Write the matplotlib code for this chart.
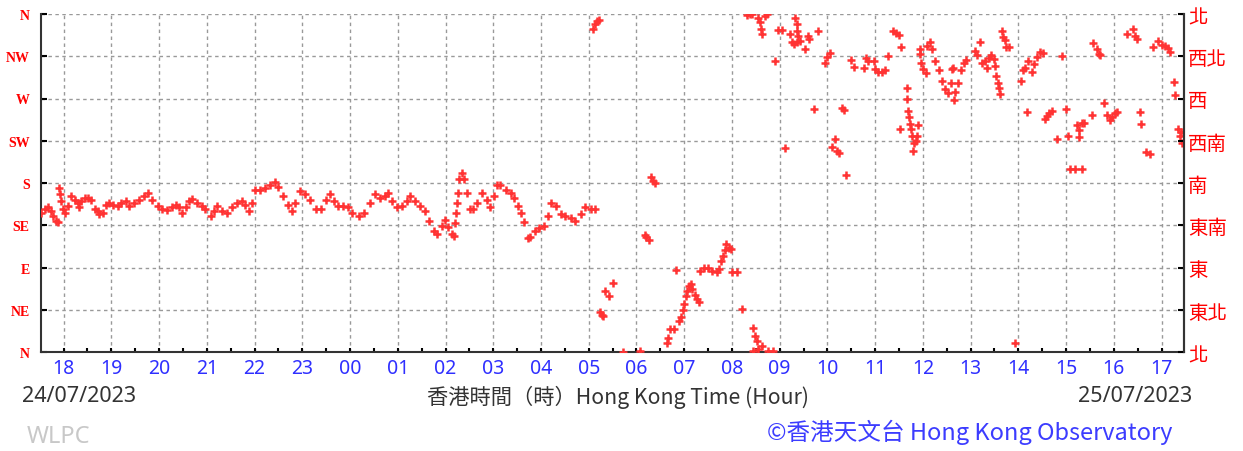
import numpy as np
import matplotlib
matplotlib.use("Agg")
import matplotlib.pyplot as plt

# 風向 (度) - 時間以小時計 (24/07 00:00 起計)
t_vals = [
    17.53, 17.60, 17.67, 17.74, 17.78, 17.85, 17.88, 17.90, 17.92, 17.94,
    17.99, 18.02, 18.09, 18.16, 18.23, 18.30, 18.33, 18.37, 18.44, 18.51,
    18.58, 18.65, 18.72, 18.75, 18.82, 18.89, 18.96, 19.03, 19.13, 19.20,
    19.31, 19.38, 19.48, 19.58, 19.69, 19.76, 19.86, 19.97, 20.07, 20.17,
    20.28, 20.35, 20.42, 20.49, 20.56, 20.63, 20.69, 20.80, 20.90, 20.97,
    21.08, 21.15, 21.22, 21.32, 21.42, 21.53, 21.63, 21.74, 21.81, 21.88,
    21.94, 22.01, 22.12, 22.22, 22.33, 22.43, 22.50, 22.60, 22.71, 22.78,
    22.85, 22.95, 23.06, 23.16, 23.28, 23.39, 23.49, 23.57, 23.66, 23.74,
    23.85, 23.95, 24.05, 24.19, 24.30, 24.41, 24.52, 24.63, 24.74, 24.80,
    24.87, 24.98, 25.08, 25.19, 25.25, 25.37, 25.47, 25.58, 25.65, 25.75,
    25.82, 25.93, 25.99, 26.06, 26.13, 26.18, 26.20, 26.22, 26.24, 26.26,
    26.29, 26.34, 26.39, 26.45, 26.51, 26.58, 26.66, 26.77, 26.87, 26.94,
    27.01, 27.08, 27.15, 27.26, 27.37, 27.44, 27.51, 27.58, 27.65, 27.72,
    27.78, 27.87, 27.96, 28.06, 28.15, 28.22, 28.31, 28.41, 28.51, 28.62,
    28.72, 28.83, 28.93, 29.04, 29.13,
    29.09, 29.13, 29.17, 29.21, 29.23, 29.27, 29.30, 29.34, 29.42, 29.51,
    29.71, 30.07, 30.17, 30.21, 30.27, 30.30, 30.34, 30.38, 30.64, 30.66,
    30.70, 30.78, 30.83, 30.90, 30.93, 30.97, 30.99, 31.03, 31.06, 31.10,
    31.14, 31.17, 31.22, 31.27, 31.31, 31.34, 31.41, 31.50, 31.59, 31.68,
    31.73, 31.78, 31.81, 31.85, 31.88, 31.94, 31.99, 32.01, 32.11, 32.22,
    32.31, 32.38, 32.43, 32.45, 32.48, 32.52, 32.55, 32.45, 32.62, 32.76,
    32.87, 32.55, 32.59, 32.60, 32.62, 32.69, 32.73, 32.90, 32.97, 33.04,
    33.11, 33.22, 33.25, 33.29, 33.36, 33.43, 33.32, 33.36, 33.37, 33.39,
    33.53, 33.60, 33.62, 33.71, 33.81, 33.95, 34.00, 34.06, 34.09, 34.16,
    34.20, 34.25, 34.30, 34.35, 34.39, 34.49, 34.55, 34.76, 34.81, 34.86,
    34.97, 35.00, 35.07, 35.15, 35.20, 35.27, 35.38, 35.43, 35.50, 35.52,
    35.55, 35.66, 35.67, 35.69, 35.71, 35.74, 35.75, 35.78, 35.81, 35.80,
    35.85, 35.87, 35.90, 35.94, 35.95, 35.97, 36.00, 36.06, 36.09, 36.15,
    36.19, 36.26, 36.33, 36.40, 36.47, 36.53, 36.58, 36.61, 36.63, 36.65,
    36.68, 36.73, 36.79, 36.86, 36.91, 37.10, 37.14, 37.19, 37.24, 37.31,
    37.34, 37.38, 37.43, 37.48, 37.52, 37.54, 37.57, 37.59, 37.62, 37.66,
    37.68, 37.71, 37.75, 37.80, 37.92, 38.05, 38.10, 38.14, 38.18, 38.21,
    38.28, 38.33, 38.39, 38.46, 38.51, 38.56, 38.60, 38.65, 38.70, 38.82,
    38.92, 39.00, 39.03, 39.08, 39.18, 39.33, 39.22, 39.27, 39.28, 39.34,
    39.38, 39.55, 39.56, 39.64, 39.68, 39.71, 39.79, 39.85, 39.92, 39.97,
    40.02, 40.07, 40.27, 40.41, 40.44, 40.49, 40.55, 40.56, 40.68, 40.75,
    40.82, 40.93, 41.00, 41.07, 41.14, 41.17, 41.27, 41.28, 41.34, 41.38,
    41.41, 41.43,
]
dir_vals = [
    148, 152, 154, 150, 145, 140, 138, 175, 168, 161,
    152, 148, 155, 166, 162, 159, 154, 161, 164, 164,
    162, 152, 150, 147, 148, 157, 159, 157, 155, 159,
    161, 155, 159, 162, 166, 169, 162, 155, 152, 151,
    154, 157, 154, 148, 154, 161, 163, 159, 155, 152,
    145, 150, 155, 150, 148, 154, 159, 161, 157, 150,
    159, 173, 173, 175, 178, 181, 176, 166, 157, 150,
    159, 171, 168, 162, 152, 152, 162, 168, 161, 155,
    155, 154, 148, 145, 148, 159, 168, 164, 166, 169,
    161, 154, 155, 161, 166, 161, 155, 150, 140, 129,
    126, 134, 141, 133, 126, 124, 137, 148, 159, 169,
    184, 191, 184, 169, 152, 152, 159, 169, 162, 154,
    166, 178, 178, 173, 169, 164, 155, 148, 138, 121,
    122, 129, 132, 134, 145, 159, 155, 147, 145, 143,
    140, 147, 154, 152, 152,
    344, 349, 353, 354, 43, 39, 38, 65, 60, 73,
    0, 1, 125, 123, 119, 186, 182, 180, 10, 15,
    24, 24, 87, 33, 37, 45, 51, 60, 65, 70,
    72, 67, 61, 56, 53, 86, 90, 89, 86, 85,
    88, 97, 102, 109, 115, 111, 110, 85, 85, 46,
    359, 360, 360, 26, 17, 12, 3, 1, 6, 1,
    1, 356, 351, 344, 339, 358, 360, 310, 343, 343,
    217, 339, 330, 328, 330, 331, 356, 349, 342, 337,
    323, 337, 333, 259, 342, 308, 314, 318, 218, 227,
    214, 212, 260, 258, 188, 311, 304, 303, 313, 310,
    310, 301, 298, 298, 300, 315, 342, 340, 338, 237,
    325, 281, 269, 257, 250, 243, 237, 230, 223, 214,
    225, 230, 242, 323, 317, 308, 301, 297, 326, 330,
    323, 310, 300, 289, 280, 276, 287, 301, 303, 268,
    277, 287, 300, 308, 311, 321, 316, 330, 308, 310,
    303, 313, 316, 312, 305, 294, 287, 281, 275, 342,
    335, 332, 325, 325, 10, 289, 300, 303, 256, 310,
    298, 307, 314, 319, 318, 248, 251, 255, 257, 227,
    315, 259, 230, 195, 195, 195, 242, 236, 229, 244,
    244, 252, 329, 323, 317, 316, 265, 252, 247, 250,
    255, 256, 339, 344, 337, 333, 256, 243, 213, 211,
    325, 331, 327, 326, 324, 320, 288, 274, 237, 230,
    234, 223,
]

hours = list(range(18, 42))
hour_labels = ["%02d" % (h % 24) for h in hours]
dir_labels_en = ["N", "NE", "E", "SE", "S", "SW", "W", "NW", "N"]
dir_labels_zh = ["北", "東北", "東", "東南", "南", "西南", "西", "西北", "北"]

W, H = 1243, 452
fig = plt.figure(figsize=(W / 100, H / 100), dpi=100)
ax = fig.add_axes([40.7 / W, 1 - 353 / H, (1184 - 40.7) / W, (353 - 15) / H])

ax.plot(t_vals, dir_vals, linestyle="none", marker="+", color="#ff3333",
        markersize=6, markeredgewidth=1.8, zorder=3)

ax.set_xlim(17.52, 41.47)
ax.set_ylim(0, 360)

ax.set_yticks(range(0, 361, 45))
ax.set_yticklabels(dir_labels_en, color="red", fontsize=10,
                   family="Liberation Serif", fontweight="bold")
ax.set_xticks(hours)
ax.set_xticklabels(hour_labels, color="#2f2fff", fontsize=14, family="Noto Sans")
ax.set_xticks(np.arange(18.5, 41.5, 1), minor=True)

ax.grid(True, which="major", color="#999999", linestyle=(0, (2.5, 2.5)), linewidth=1)
ax.tick_params(axis="y", direction="in", length=4, width=1.5, pad=8)
ax.tick_params(axis="x", which="both", direction="in", length=3, width=1.5, pad=4)

ax.spines["top"].set_visible(False)
for s in ["left", "right", "bottom"]:
    ax.spines[s].set_color("#333333")
    ax.spines[s].set_linewidth(1.5)

ax2 = ax.twinx()
ax2.set_ylim(0, 360)
ax2.set_yticks(range(0, 361, 45))
ax2.set_yticklabels(dir_labels_zh, color="red", fontsize=14, family="Noto Sans CJK TC")
ax2.tick_params(axis="y", direction="in", length=4, width=1.5, pad=3)
ax2.spines["top"].set_visible(False)
ax2.spines["left"].set_visible(False)
ax2.spines["bottom"].set_visible(False)
ax2.spines["right"].set_color("#333333")
ax2.spines["right"].set_linewidth(1.5)

cjk = ["Noto Sans CJK TC", "DejaVu Sans"]
fig.text(22 / W, 1 - 397 / H, "24/07/2023", fontsize=15.5, color="#333333",
         family="Noto Sans", ha="left", va="center")
fig.text(1192 / W, 1 - 397 / H, "25/07/2023", fontsize=15.5, color="#333333",
         family="Noto Sans", ha="right", va="center")
fig.text(618 / W, 1 - 397 / H, "香港時間（時）Hong Kong Time (Hour)", fontsize=15.3,
         color="#333333", family=cjk, ha="center", va="center")
fig.text(27 / W, 1 - 437 / H, "WLPC", fontsize=17, color="#c8c8c8",
         family="Noto Sans", ha="left", va="center")
fig.text(1172 / W, 1 - 432 / H, "©香港天文台 Hong Kong Observatory", fontsize=17,
         color="#3c3cff", family=cjk, ha="right", va="center")

fig.savefig("out.png", dpi=100)
